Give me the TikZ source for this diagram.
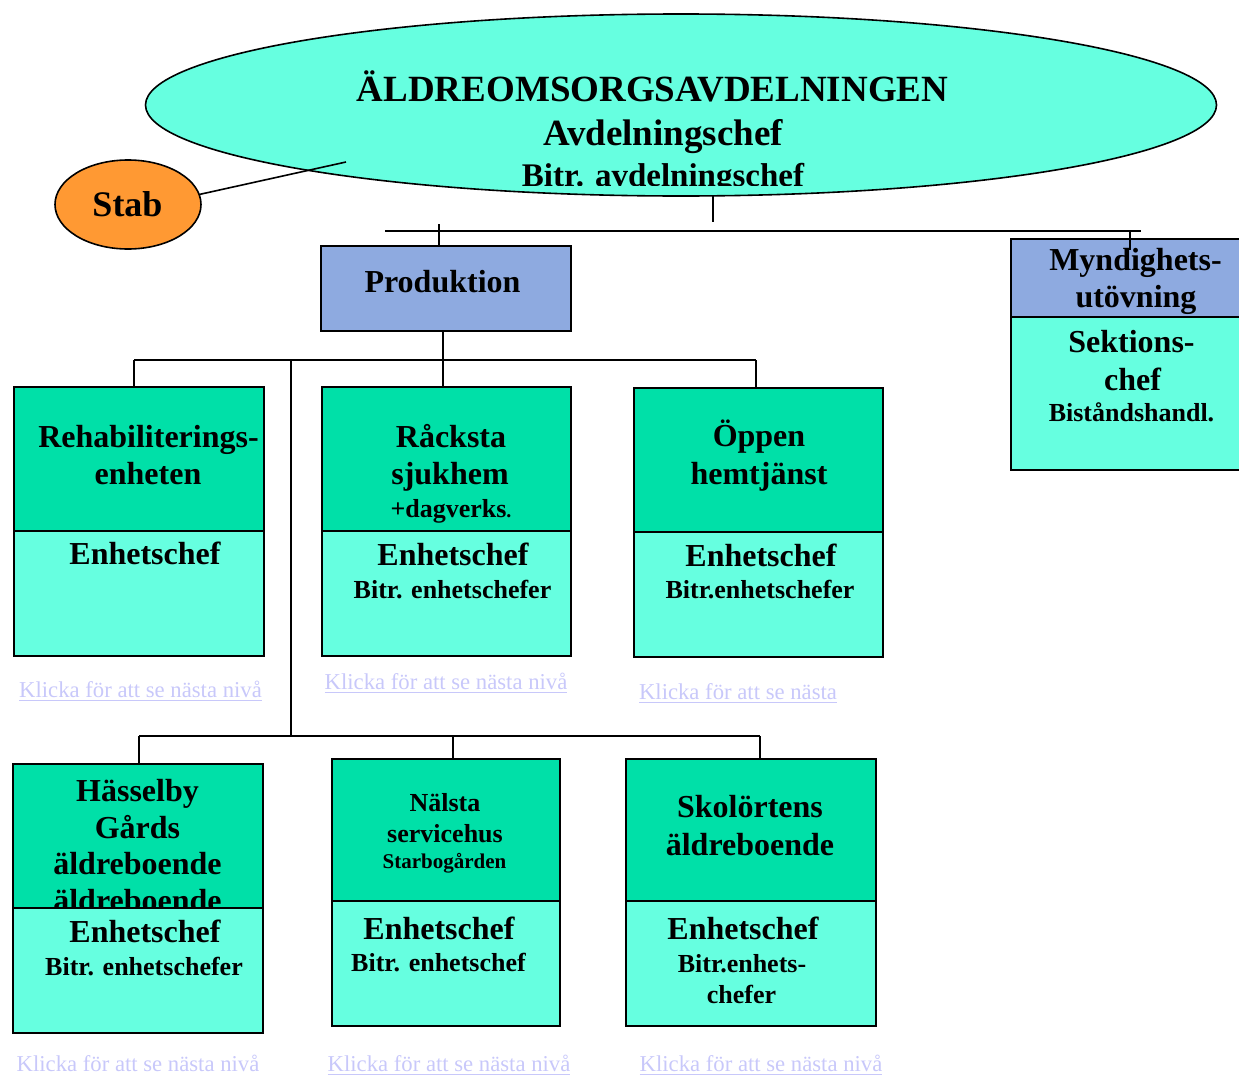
\documentclass[tikz,border=0pt]{standalone}
\usepackage{fontspec}
\setmainfont{Liberation Serif}
\usetikzlibrary{shapes.geometric}
\definecolor{aqua}{HTML}{66FFE0}
\definecolor{grn}{HTML}{00E0A8}
\definecolor{prodblue}{HTML}{8EAAE0}
\definecolor{stabor}{HTML}{FF9933}
\definecolor{linkc}{HTML}{C8C8FA}
\newcommand\bsz[1]{\fontsize{#1}{#1}\selectfont\bfseries}
\tikzset{
  every node/.style={inner sep=0pt, outer sep=0pt},
  box/.style={draw=black, line width=1.6pt, anchor=north west, inner sep=0pt},
  topbox/.style={box, fill=grn},
  botbox/.style={box, fill=aqua},
  blueb/.style={box, fill=prodblue},
  lbl/.style={anchor=base, font=\bsz{32}},
  sml/.style={anchor=base, font=\bsz{26}},
  tiny/.style={anchor=base, font=\bsz{21}},
  conn/.style={line width=1.6pt},
  link/.style={anchor=base, text=linkc, font=\fontsize{22.7}{22.7}\selectfont},
  uline/.style={draw=linkc, line width=1.3pt},
}
\begin{document}
\begin{tikzpicture}[x=1pt,y=-1pt]
\useasboundingbox (0,0) rectangle (1239,1076);
\clip (0,0) rectangle (1239,1076);

% main ellipse
\node[ellipse, draw=black, line width=1.6pt, fill=aqua, minimum width=1071pt, minimum height=182pt] (mainE) at (681,105) {};
\begin{scope}
  \clip (0,0) rectangle (1239,185);
  \node[anchor=base, font=\bsz{37}] (t1) at (652.5,101) {ÄLDREOMSORGSAVDELNINGEN};
  \node[anchor=base, font=\bsz{37}] (t2) at (663,145) {Avdelningschef};
  \node[anchor=base, font=\bsz{33}] (t3) at (663,186) {Bitr. avdelningschef};
\end{scope}

% Stab
\node[ellipse, draw=black, line width=1.6pt, fill=stabor, minimum width=146pt, minimum height=89pt] (stab) at (128,204.5) {};
\node[anchor=base, font=\bsz{36}] (stabt) at (127.5,216) {Stab};
\coordinate (stabend) at (346,162);
\draw[conn] (stab.8) -- (stabend);

% top connectors
\coordinate (mtap) at (713,195);
\coordinate (mtapend) at (713,222);
\draw[conn] (mtap) -- (mtapend);
\coordinate (tbL) at (385,231);
\coordinate (tbR) at (1141,231);
\draw[conn] (tbL) -- (tbR);

% Produktion
\node[blueb, minimum width=250pt, minimum height=85pt] (prod) at (321,246) {};
\node[lbl] (prodt) at (442.5,292) {Produktion};
\coordinate (ptick) at (439,224);
\draw[conn] (ptick) -- (ptick |- prod.north);

% Myndighetsutövning
\node[blueb, minimum width=260pt, minimum height=78pt] (myndT) at (1011,239) {};
\node[lbl] (m1) at (1135.5,270) {Myndighets-};
\node[lbl] (m2) at (1136,307) {utövning};
\node[botbox, minimum width=260pt, minimum height=153pt] (myndB) at (1011,317) {};
\node[lbl] (m3) at (1131.5,352) {Sektions-};
\node[lbl] (m4) at (1132.5,390) {chef};
\node[sml] (m5) at (1131.5,421) {Biståndshandl.};
\coordinate (mtick) at (1130,230);
\draw[conn] (mtick) -- ++(0,20);

% bus 1
\coordinate (b1) at (443,360);
\coordinate (b1L) at (134,360);
\coordinate (b1R) at (756,360);
\coordinate (b2top) at (291,360);
\coordinate (b2) at (291,736);
\coordinate (b3L) at (139,736);
\coordinate (b3M) at (453,736);
\coordinate (b3R) at (760,736);

% Row 1 boxes
\node[topbox, minimum width=250pt, minimum height=144pt] (rehabT) at (14,387) {};
\node[lbl] (r1) at (148.5,447) {Rehabiliterings-};
\node[lbl] (r2) at (148,484) {enheten};
\node[botbox, minimum width=250pt, minimum height=125pt] (rehabB) at (14,531) {};
\node[lbl] (r3) at (145,564) {Enhetschef};

\node[topbox, minimum width=249pt, minimum height=144pt] (rackT) at (322,387) {};
\node[lbl] (k1) at (451,447) {Råcksta};
\node[lbl] (k2) at (450,484) {sjukhem};
\node[sml] (k3) at (451,517) {+dagverks{\fontsize{20}{20}\selectfont.}};
\node[botbox, minimum width=249pt, minimum height=125pt] (rackB) at (322,531) {};
\node[lbl] (k4) at (453,565) {Enhetschef};
\node[sml] (k5) at (452.5,598) {Bitr. enhetschefer};

\node[topbox, minimum width=249pt, minimum height=144pt] (oppT) at (634,388) {};
\node[lbl] (o1) at (759,446) {Öppen};
\node[lbl] (o2) at (759,484) {hemtjänst};
\node[botbox, minimum width=249pt, minimum height=125pt] (oppB) at (634,532) {};
\node[lbl] (o3) at (761,566) {Enhetschef};
\node[sml] (o4) at (760,598) {Bitr.enhetschefer};

% Row 1 connectors
\draw[conn] (b1 |- prod.south) -- (b1);
\draw[conn] (b1L) -- (b1R);
\draw[conn] (b1L) -- (b1L |- rehabT.north);
\draw[conn] (b1) -- (b1 |- rackT.north);
\draw[conn] (b1R) -- (b1R |- oppT.north);
\draw[conn] (b2top) -- (b2);
\draw[conn] (b3L) -- (b3R);

% Row 2 boxes
\node[topbox, minimum width=250pt, minimum height=144pt] (hassT) at (13,764) {};
\node[lbl] (h1) at (137.5,801) {Hässelby};
\node[lbl] (h2) at (137.5,838) {Gårds};
\node[lbl] (h3) at (137.5,874) {äldreboende};
\node[lbl] (h4) at (137.5,911) {äldreboende};
\node[botbox, minimum width=250pt, minimum height=125pt] (hassB) at (13,908) {};
\node[lbl] (h5) at (145,942) {Enhetschef};
\node[sml] (h6) at (144,975) {Bitr. enhetschefer};

\node[topbox, minimum width=228pt, minimum height=142pt] (nalT) at (332,759) {};
\node[sml] (n1) at (445,811) {Nälsta};
\node[sml] (n2) at (445,842) {servicehus};
\node[tiny] (n3) at (444.5,868) {Starbogården};
\node[botbox, minimum width=228pt, minimum height=125pt] (nalB) at (332,901) {};
\node[lbl] (n4) at (439,939) {Enhetschef};
\node[sml] (n5) at (438.5,971) {Bitr. enhetschef};

\node[topbox, minimum width=250pt, minimum height=142pt] (skolT) at (626,759) {};
\node[lbl] (s1) at (750,817) {Skolörtens};
\node[lbl] (s2) at (750,855) {äldreboende};
\node[botbox, minimum width=250pt, minimum height=125pt] (skolB) at (626,901) {};
\node[lbl] (s3) at (743,939) {Enhetschef};
\node[sml] (s4) at (742,972) {Bitr.enhets-};
\node[sml] (s5) at (741.5,1003) {chefer};

% Row 2 connectors
\draw[conn] (b3L) -- (b3L |- hassT.north);
\draw[conn] (b3M) -- (b3M |- nalT.north);
\draw[conn] (b3R) -- (b3R |- skolT.north);

% links
\node[link] (l1) at (140.5,697) {Klicka för att se nästa nivå};
\draw[uline] ([yshift=-3.5pt]l1.base west) -- ([yshift=-3.5pt]l1.base east);
\node[link] (l2) at (446,689) {Klicka för att se nästa nivå};
\draw[uline] ([yshift=-3.5pt]l2.base west) -- ([yshift=-3.5pt]l2.base east);
\node[link] (l3) at (738,699) {Klicka för att se nästa};
\draw[uline] ([yshift=-3.5pt]l3.base west) -- ([yshift=-3.5pt]l3.base east);
\node[link] (l4) at (138,1071) {Klicka för att se nästa nivå};
\node[link] (l5) at (449,1071) {Klicka för att se nästa nivå};
\draw[uline] ([yshift=-3.5pt]l5.base west) -- ([yshift=-3.5pt]l5.base east);
\node[link] (l6) at (761,1071) {Klicka för att se nästa nivå};
\draw[uline] ([yshift=-3.5pt]l6.base west) -- ([yshift=-3.5pt]l6.base east);
\end{tikzpicture}
\end{document}
